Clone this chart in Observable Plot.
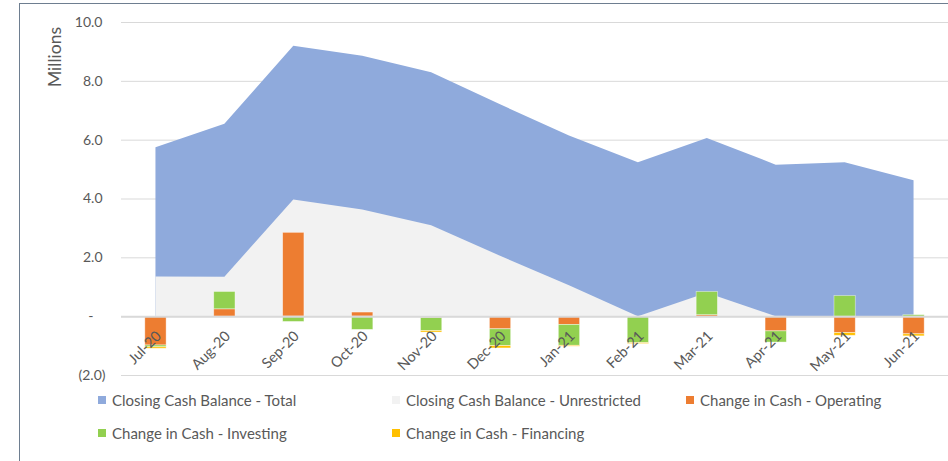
<!DOCTYPE html>
<html><head><meta charset="utf-8">
<script src="https://cdn.jsdelivr.net/npm/d3@7"></script>
<script src="https://cdn.jsdelivr.net/npm/@observablehq/plot@0.6"></script>
<style>
body{margin:0;background:#fff;font-family:Lato,sans-serif;}
#wrap{position:relative;width:948px;height:461px;overflow:hidden;}
#frame{position:absolute;left:19px;top:3px;width:960px;height:470px;border-left:1.5px solid #6e7e90;border-top:1.5px solid #6e7e90;box-sizing:border-box;}
#chart{position:absolute;left:0;top:0;}
#ylabel{position:absolute;left:54px;top:57px;transform:translate(-50%,-50%) rotate(-90deg);font-size:17.5px;color:#595959;white-space:nowrap;}
#legend{position:absolute;left:98px;top:392px;width:882px;display:grid;grid-template-columns:294px 294px 294px;row-gap:17px;}
.item{display:flex;align-items:center;height:16px;font-size:15px;color:#595959;white-space:nowrap;}
.sw{width:8px;height:8px;margin-right:6px;flex:none;}
</style></head><body>
<div id="wrap"><div id="frame"></div><div id="chart"></div><div id="ylabel">Millions</div><div id="legend"></div></div>
<script>
const months = ["Jul-20","Aug-20","Sep-20","Oct-20","Nov-20","Dec-20","Jan-21","Feb-21","Mar-21","Apr-21","May-21","Jun-21"];
const totalBalance = [5.74, 6.54, 9.19, 8.85, 8.29, 7.20, 6.14, 5.23, 6.06, 5.15, 5.23, 4.62];
const unrestrictedBalance = [1.35, 1.34, 3.97, 3.63, 3.09, 2.05, 1.05, 0.00, 0.80, 0.00, 0.00, 0.00];
const operating = [-0.98, 0.25, 2.85, 0.14, -0.05, -0.43, -0.28, 0.00, 0.05, -0.50, -0.56, -0.60];
const investing = [-0.06, 0.59, -0.18, -0.45, -0.44, -0.57, -0.71, -0.90, 0.79, -0.38, 0.70, 0.05];
const financing = [-0.05, 0.00, 0.00, 0.00, -0.05, -0.08, -0.03, -0.03, 0.00, 0.00, -0.09, -0.07];
const seriesNames = ["Closing Cash Balance - Total","Closing Cash Balance - Unrestricted","Change in Cash - Operating","Change in Cash - Investing","Change in Cash - Financing"];
const seriesColors = ["#8faadc","#f2f2f2","#ed7d31","#92d050","#ffc000"];
const yTicks = [-2, 0, 2, 4, 6, 8, 10];

const balances = months.map((m, i) => ({month: m, total: totalBalance[i], unrestricted: unrestrictedBalance[i]}));
const flows = [];
[operating, investing, financing].forEach((arr, k) =>
  arr.forEach((v, i) => flows.push({month: months[i], series: seriesNames[k + 2], value: v})));

const chart = Plot.plot({
  width: 948, height: 390,
  marginLeft: 121, marginRight: 0, marginTop: 22, marginBottom: 15,
  style: {fontFamily: "Lato, sans-serif", fontSize: "14px", color: "#595959", background: "transparent"},
  x: {type: "band", domain: months, paddingInner: 0.691, paddingOuter: 0.3455, round: false, axis: null},
  y: {domain: [-2, 10], axis: null},
  color: {domain: seriesNames, range: seriesColors},
  marks: [
    Plot.gridY(yTicks, {stroke: "#d9d9d9", strokeOpacity: 1}),
    Plot.areaY(balances, {x: "month", y: "total", fill: seriesColors[0]}),
    Plot.areaY(balances, {x: "month", y: "unrestricted", fill: seriesColors[1]}),
    Plot.barY(flows, {x: "month", y: "value", fill: "series", stroke: "#ffffff", strokeOpacity: 0.55, strokeWidth: 0.75}),
    Plot.ruleY([0], {stroke: "#d9d9d9", strokeWidth: 2}),
    Plot.axisY(yTicks.filter(d => d > 0), {tickSize: 0, tickPadding: 19, tickFormat: d3.format(".1f"), fontSize: 14, label: null}),
    Plot.axisY([0], {tickSize: 0, tickPadding: 28, tickFormat: () => "-", fontSize: 14, label: null}),
    Plot.axisY(yTicks.filter(d => d < 0), {tickSize: 0, tickPadding: 16, tickFormat: d => `(${Math.abs(d).toFixed(1)})`, fontSize: 14, label: null}),
    Plot.text(months, {x: d => d, y: () => 0, text: d => d, rotate: -45, textAnchor: "end", dx: 3, dy: 17, fill: "#595959", fontSize: 14.5})
  ]
});
document.getElementById("chart").appendChild(chart);

const legend = document.getElementById("legend");
seriesNames.forEach((name, i) => {
  const item = document.createElement("div");
  item.className = "item";
  const sw = document.createElement("span");
  sw.className = "sw";
  sw.style.background = seriesColors[i];
  item.appendChild(sw);
  item.appendChild(document.createTextNode(name));
  legend.appendChild(item);
});
</script>
</body></html>
